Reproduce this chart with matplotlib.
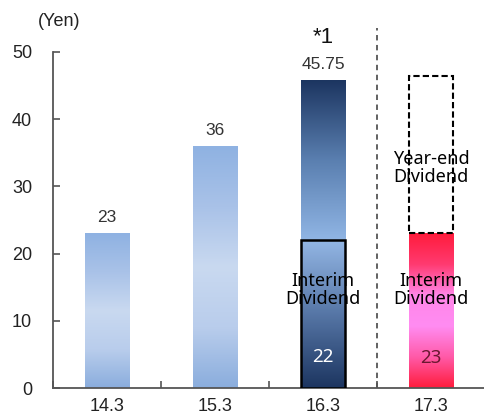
import numpy as np
import matplotlib
matplotlib.use("Agg")
import matplotlib.pyplot as plt
from matplotlib.colors import LinearSegmentedColormap
from matplotlib.patches import Rectangle

# Dividend per share (Yen) by fiscal year
years = ["14.3", "15.3", "16.3", "17.3"]
annual_totals = [23, 36, 45.75, None]
interim = [None, None, 22, 23]
year_end_forecast_top = 46.5  # planned total for 17.3 (outline only)

plt.rcParams["font.family"] = ["Liberation Sans", "DejaVu Sans"]
LABEL_FONT = ["Noto Sans", "DejaVu Sans"]

fig = plt.figure(figsize=(4.84, 4.17), dpi=100)
ax = fig.add_axes([0.1095, 0.0695, 0.8925, 0.8058])

BAR_W = 0.41
x = np.arange(len(years))


def grad_bar(xc, bottom, top, colors, z=2):
    cmap = LinearSegmentedColormap.from_list("g", colors)
    grad = np.linspace(0, 1, 256).reshape(-1, 1)
    ax.imshow(grad, cmap=cmap, aspect="auto", origin="lower",
              extent=(xc - BAR_W / 2, xc + BAR_W / 2, bottom, top),
              zorder=z, interpolation="bilinear")


light_blue = ["#8aaddd", "#b9cdec", "#c9d9f0", "#a9c2e8", "#8fb2e2"]

# Plain annual bars
for i in (0, 1):
    grad_bar(x[i], 0, annual_totals[i], light_blue)
    ax.text(x[i], annual_totals[i] + 1.2, f"{annual_totals[i]:g}",
            ha="center", va="bottom", fontsize=12.5, color="#333333")

# 16.3: year-end portion above the interim portion
i = 2
grad_bar(x[i], interim[i], annual_totals[i], ["#90b5e4", "#5a7fb0", "#1c3560"])
grad_bar(x[i], 0, interim[i], ["#1c3560", "#5676a6", "#93b6e4"], z=3)
ax.add_patch(Rectangle((x[i] - BAR_W / 2, 0), BAR_W, interim[i],
                       fill=False, edgecolor="black", linewidth=1.8, zorder=4))
ax.text(x[i], annual_totals[i] + 1.2, f"{annual_totals[i]:g}",
        ha="center", va="bottom", fontsize=12.5, color="#333333")
ax.text(x[i], 51.4, "*1", ha="center", va="baseline", fontsize=16, color="#111111",
        clip_on=False)
ax.text(x[i], 14.6, "Interim\nDividend", ha="center", va="center",
        fontsize=13, family=LABEL_FONT, linespacing=1.0, zorder=6)
ax.text(x[i], 4.6, f"{interim[i]:g}", ha="center", va="center",
        fontsize=13.5, family=LABEL_FONT, color="white", zorder=6)

# 17.3: interim paid, year-end planned
i = 3
grad_bar(x[i], 0, interim[i], ["#ff1c3c", "#ff5aa8", "#ff8cf2", "#ff86e8", "#ff3a70", "#ff1c3c"])
ax.add_patch(Rectangle((x[i] - BAR_W / 2, interim[i]), BAR_W,
                       year_end_forecast_top - interim[i], fill=False,
                       edgecolor="black", linewidth=1.5, linestyle=(0, (3, 1.5)),
                       zorder=4))
ax.text(x[i], 32.7, "Year-end\nDividend", ha="center", va="center",
        fontsize=13, family=LABEL_FONT, linespacing=1.0, zorder=6)
ax.text(x[i], 14.6, "Interim\nDividend", ha="center", va="center",
        fontsize=13, family=LABEL_FONT, linespacing=1.0, zorder=6)
ax.text(x[i], 4.5, f"{interim[i]:g}", ha="center", va="center",
        fontsize=13.5, family=LABEL_FONT, color="#6b1830", zorder=6)

# Separator between results and forecast
ax.plot([2.5, 2.5], [0, 53.6], color="#555555", linestyle=(0, (3, 2.5)),
        linewidth=1.3, clip_on=False, zorder=1)

ax.set_xlim(-0.5, 3.5)
ax.set_ylim(0, 50)
ax.set_yticks([0, 10, 20, 30, 40, 50])
ax.tick_params(axis="y", direction="in", length=5, width=1.2, colors="#555555",
               labelcolor="#222222", labelsize=13, pad=15)
ax.set_xticks(np.arange(-0.5, 3.6, 1))
ax.set_xticklabels([])
ax.tick_params(axis="x", which="major", direction="in", length=5, width=1.2,
               colors="#555555")
ax.set_xticks(x, minor=True)
ax.set_xticklabels(years, minor=True)
ax.tick_params(axis="x", which="minor", length=0, labelsize=13,
               labelcolor="#222222", pad=7)

for s in ("top", "right"):
    ax.spines[s].set_visible(False)
for s in ("left", "bottom"):
    ax.spines[s].set_color("#555555")
    ax.spines[s].set_linewidth(1.3)

fig.text(38 / 484, 1 - 22 / 417, "(Yen)", ha="left", va="center", fontsize=13,
         color="#222222")

fig.savefig("out.png", dpi=100)
